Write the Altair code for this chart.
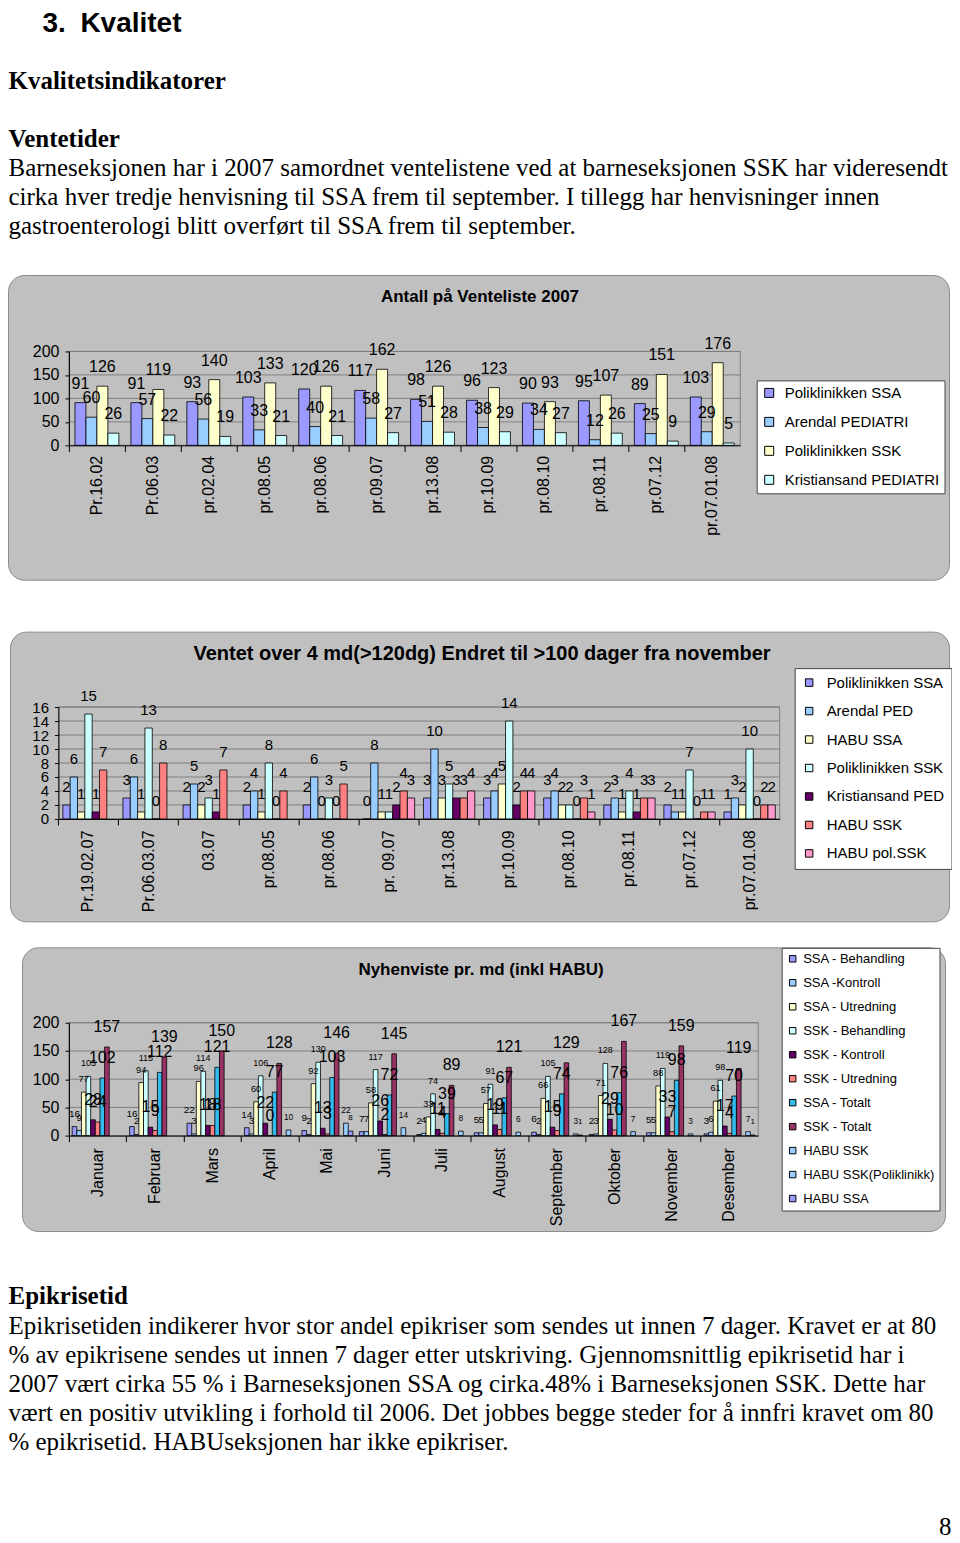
import altair as alt
import pandas as pd

W = 944
X0 = 68.5          # common page x of every section's origin
SANS = "Liberation Sans"
SERIF = "Liberation Serif"

# ---------------- document text ----------------
head_num = "3."
head_title = "Kvalitet"
head_sub = "Kvalitetsindikatorer"
head_sec = "Ventetider"
intro_lines = [
    "Barneseksjonen har i 2007 samordnet ventelistene ved at barneseksjonen SSK har videresendt",
    "cirka hver tredje henvisning til SSA frem til september. I tillegg har henvisninger innen",
    "gastroenterologi blitt overført til SSA frem til september.",
]
epi_head = "Epikrisetid"
epi_lines = [
    "Epikrisetiden indikerer hvor stor andel epikriser som sendes ut innen 7 dager. Kravet er at 80",
    "% av epikrisene sendes ut innen 7 dager etter utskriving. Gjennomsnittlig epikrisetid har i",
    "2007 vært cirka 55 % i Barneseksjonen SSA og cirka.48% i Barneseksjonen SSK. Dette har",
    "vært en positiv utvikling i forhold til 2006. Det jobbes begge steder for å innfri kravet om 80",
    "% epikrisetid. HABUseksjonen har ikke epikriser.",
]
page_no = "8"

# ---------------- chart 1 data ----------------
c1_title = "Antall på Venteliste 2007"
c1_cats = ["Pr.16.02", "Pr.06.03", "pr.02.04", "pr.08.05", "pr.08.06", "pr.09.07",
           "pr.13.08", "pr.10.09", "pr.08.10", "pr.08.11", "pr.07.12", "pr.07.01.08"]
c1_series = ["Poliklinikken SSA", "Arendal PEDIATRI", "Poliklinikken SSK", "Kristiansand PEDIATRI"]
c1_pol_ssa = [91, 91, 93, 103, 120, 117, 98, 96, 90, 95, 89, 103]
c1_arendal = [60, 57, 56, 33, 40, 58, 51, 38, 34, 12, 25, 29]
c1_pol_ssk = [126, 119, 140, 133, 126, 162, 126, 123, 93, 107, 151, 176]
c1_krs = [26, 22, 19, 21, 21, 27, 28, 29, 27, 26, 9, 5]
c1_colors = ["#9999FF", "#99CCFF", "#FFFFCC", "#CCFFFF"]
c1_ticks = [0, 50, 100, 150, 200]

# ---------------- chart 2 data ----------------
c2_title = "Ventet over 4 md(>120dg) Endret til >100 dager fra november"
c2_cats = ["Pr.19.02.07", "Pr.06.03.07", "03.07", "pr.08.05", "pr.08.06", "pr. 09.07",
           "pr.13.08", "pr.10.09", "pr.08.10", "pr.08.11", "pr.07.12", "pr.07.01.08"]
c2_series = ["Poliklinikken SSA", "Arendal PED", "HABU SSA", "Poliklinikken SSK",
             "Kristiansand PED", "HABU SSK", "HABU pol.SSK"]
c2_pol_ssa = [2, 3, 2, 2, 2, 0, 3, 3, 3, 2, 2, 1]
c2_arendal = [6, 6, 5, 4, 6, 8, 10, 4, 4, 3, 1, 3]
c2_habu_ssa = [1, 1, 2, 1, 0, 1, 3, 5, 2, 1, 1, 2]
c2_pol_ssk = [15, 13, 3, 8, 3, 1, 5, 14, 2, 4, 7, 10]
c2_krs = [1, 0, 1, 0, 0, 2, 3, 2, 0, 1, 0, 0]
c2_habu_ssk = [7, 8, 7, 4, 5, 4, 3, 4, 3, 3, 1, 2]
c2_habu_pol = [None, None, None, None, None, 3, 4, 4, 1, 3, 1, 2]
c2_colors = ["#9999FF", "#99CCFF", "#FFFFCC", "#CCFFFF", "#660066", "#FF8080", "#FF99CC"]
c2_ticks = [0, 2, 4, 6, 8, 10, 12, 14, 16]

# ---------------- chart 3 data ----------------
c3_title = "Nyhenviste pr. md (inkl HABU)"
c3_cats = ["Januar", "Februar", "Mars", "April", "Mai", "Juni", "Juli", "August",
           "September", "Oktober", "November", "Desember"]
c3_series = ["SSA - Behandling", "SSA -Kontroll", "SSA - Utredning", "SSK - Behandling",
             "SSK - Kontroll", "SSK - Utredning", "SSA  - Totalt", "SSK - Totalt",
             "HABU SSK", "HABU SSK(Poliklinikk)", "HABU SSA"]
c3_ssa_beh = [16, 16, 22, 14, 9, 7, 2, 5, 6, 2, 5, 3]
c3_ssa_kon = [9, 2, 3, 3, 2, 7, 4, 5, 2, 3, 5, 6]
c3_ssa_utr = [77, 94, 96, 60, 92, 58, 33, 57, 66, 71, 88, 61]
c3_ssk_beh = [105, 115, 114, 106, 130, 117, 74, 91, 105, 128, 119, 98]
c3_ssk_kon = [28, 15, 18, 22, 13, 26, 11, 19, 15, 29, 33, 17]
c3_ssk_utr = [24, 9, 18, 0, 3, 2, 4, 11, 9, 10, 7, 4]
c3_ssa_tot = [102, 112, 121, 77, 103, 72, 39, 67, 74, 76, 98, 70]
c3_ssk_tot = [157, 139, 150, 128, 146, 145, 89, 121, 129, 167, 159, 119]
c3_habu_ssk = [None] * 12
c3_habu_pol = [None, None, None, 10, 22, 14, 8, 6, 3, 7, 3, 7]
c3_habu_ssa = [None, None, None, None, 8, None, None, None, 1, None, None, 1]
c3_colors = ["#9999FF", "#99CCFF", "#FFFFCC", "#CCFFFF", "#660066", "#FF8080",
             "#33BBEE", "#993366", "#99CCFF", "#99CCFF", "#9999FF"]
c3_ticks = [0, 50, 100, 150, 200]
c3_big = ["SSK - Kontroll", "SSK - Utredning", "SSA  - Totalt", "SSK - Totalt"]
c3_small = [s for s in c3_series if s not in c3_big]
c3_small_sizes = [10, 8, 10, 8, 10, 10, 10]

ONE = pd.DataFrame({"k": [0]})


def long_df(cats, series, arrays):
    rows = []
    for s, arr in zip(series, arrays):
        for c, v in zip(cats, arr):
            if v is not None:
                rows.append({"cat": c, "series": s, "value": v})
    return pd.DataFrame(rows)


def vrect(x1, x2, y1, y2, **kw):
    return alt.Chart(ONE).mark_rect(**kw).encode(
        x=alt.value(x1), x2=alt.value(x2), y=alt.value(y1), y2=alt.value(y2))


def vtext(s, x, y, **kw):
    kw.setdefault("align", "left")
    return alt.Chart(ONE).mark_text(color="black", **kw).encode(
        x=alt.value(x), y=alt.value(y), text=alt.value(s))


def text_section(top, height, items):
    layers = [vrect(8 - X0, 8 + W - X0, 0, height, fill="white")]
    for s, x, y, kw in items:
        layers.append(vtext(s, x - X0, y - top, **kw))
    return alt.layer(*layers).properties(width=8 + W - X0, height=height)


def chart_section(top, height, py0, pl, pw, ph, frame, df, cats, series, colors, ticks,
                  xpad, title, title_pos, title_kw, legend_kw, label_layers, xlab_pad,
                  ylab_size):
    oy = py0 - top
    fx1, fx2, fy1, fy2 = frame
    x0 = pl - X0                       # plot left relative to the section origin
    xscale = dict(paddingInner=0, paddingOuter=0)
    if x0 != 0:
        xscale["range"] = [x0, x0 + pw]
    x_enc = alt.X("cat:N", sort=cats, scale=alt.Scale(**xscale),
                  axis=alt.Axis(title=None, labelAngle=270, bandPosition=0, tickSize=6,
                                labelPadding=xlab_pad, labelFont=SANS, labelFontSize=16,
                                labelColor="black", domainColor="black", tickColor="black",
                                zindex=1, grid=False))
    xo_enc = alt.XOffset("series:N", sort=series,
                         scale=alt.Scale(domain=series, paddingInner=0, paddingOuter=xpad))
    yaxis = dict(title=None, values=ticks, tickSize=4, labelPadding=6,
                 labelFont=SANS, labelFontSize=ylab_size, labelColor="black",
                 domainColor="black", tickColor="black", grid=False,
                 zindex=1, labelOverlap=False)
    if x0 != 0:
        yaxis["offset"] = -x0
    y_enc = alt.Y("value:Q", scale=alt.Scale(domain=[ticks[0], ticks[-1]], nice=False),
                  axis=alt.Axis(**yaxis))
    color_enc = alt.Color("series:N", sort=series,
                          scale=alt.Scale(domain=series, range=colors),
                          legend=alt.Legend(title=None, orient="none",
                                            legendX=legend_kw.pop("x") - X0,
                                            legendY=legend_kw.pop("y") - py0,
                                            fillColor="white", strokeColor="#444444",
                                            symbolType="square", symbolStrokeColor="black",
                                            symbolStrokeWidth=1, labelFont=SANS,
                                            labelColor="black", labelLimit=400,
                                            **legend_kw))
    layers = [
        vrect(8 - X0, 8 + W - X0, -oy, height - oy, fill="white"),
        vrect(fx1 - X0, fx2 - X0, fy1 - py0, fy2 - py0, fill="#C0C0C0",
              stroke="#8A8A8A", strokeWidth=1, cornerRadius=16),
        vtext(title, title_pos[0] - X0, title_pos[1] - py0, font=SANS, align="center",
              baseline="middle", **title_kw),
        alt.Chart(pd.DataFrame({"value": ticks})).mark_rule(color="#808080", strokeWidth=1)
        .encode(y=y_enc, x=alt.value(x0), x2=alt.value(x0 + pw)),
        vrect(x0, x0 + pw, 0, ph, fillOpacity=0, stroke="#808080", strokeWidth=1),
        alt.Chart(df).mark_bar(stroke="black", strokeWidth=0.8)
        .encode(x=x_enc, xOffset=xo_enc, y=y_enc, color=color_enc),
    ]
    for flt, mk, extra in label_layers:
        ch = alt.Chart(df)
        if flt is not None:
            ch = ch.transform_filter(alt.FieldOneOfPredicate(field="series", oneOf=flt))
        enc = dict(x=x_enc, xOffset=xo_enc, y=y_enc, text=alt.Text("value:Q", format="d"))
        enc.update(extra)
        layers.append(ch.mark_text(font=SANS, color="black", baseline="middle",
                                   align="center", **mk).encode(**enc))
    return alt.layer(*layers).properties(width=x0 + pw, height=ph)


# ---------------- sections ----------------
secA = text_section(8, 254, [
    (head_num, 42, 9, dict(font=SANS, fontSize=28, fontWeight="bold", baseline="top")),
    (head_title, 80, 9, dict(font=SANS, fontSize=28, fontWeight="bold", baseline="top")),
    (head_sub, 8, 80, dict(font=SERIF, fontSize=25, fontWeight="bold", baseline="middle")),
    (head_sec, 8, 138, dict(font=SERIF, fontSize=25, fontWeight="bold", baseline="middle")),
] + [(t, 8, 167 + 29 * i, dict(font=SERIF, fontSize=25, baseline="middle"))
     for i, t in enumerate(intro_lines)])

df1 = long_df(c1_cats, c1_series, [c1_pol_ssa, c1_arendal, c1_pol_ssk, c1_krs])
secB = chart_section(
    262, 338, 351, 68.5, 672, 94, (8, 950, 275, 580), df1, c1_cats, c1_series, c1_colors,
    c1_ticks, 0.55, c1_title, (480, 296), dict(fontSize=17, fontWeight="bold"),
    dict(x=757, y=380, padding=5, rowPadding=13, symbolSize=81, labelFontSize=15,
         labelOffset=8),
    [(None, dict(fontSize=16, dy=-19), {})], 4, 16)

df2 = long_df(c2_cats, c2_series, [c2_pol_ssa, c2_arendal, c2_habu_ssa, c2_pol_ssk,
                                    c2_krs, c2_habu_ssk, c2_habu_pol])
secC = chart_section(
    600, 335, 707, 58, 722, 112, (10, 950, 632, 922), df2, c2_cats, c2_series, c2_colors,
    c2_ticks, 0.6, c2_title, (482, 654), dict(fontSize=20, fontWeight="bold"),
    dict(x=795, y=668, padding=7, rowPadding=12.5, symbolSize=56, labelFontSize=15,
         labelOffset=10),
    [(None, dict(fontSize=15, dy=-18), {})], 5, 15)

df3 = long_df(c3_cats, c3_series, [c3_ssa_beh, c3_ssa_kon, c3_ssa_utr, c3_ssk_beh,
                                    c3_ssk_kon, c3_ssk_utr, c3_ssa_tot, c3_ssk_tot,
                                    c3_habu_ssk, c3_habu_pol, c3_habu_ssa])
secD = chart_section(
    935, 315, 1023, 68.5, 690, 113, (22, 946, 948, 1232), df3, c3_cats, c3_series,
    c3_colors, c3_ticks, 0.7, c3_title, (481, 970), dict(fontSize=17, fontWeight="bold"),
    dict(x=782, y=948, padding=4.5, rowPadding=10, symbolSize=42, labelFontSize=13,
         labelOffset=4),
    [(c3_big, dict(fontSize=16, dy=-20), {}),
     (c3_small, dict(dy=-13),
      {"size": alt.Size("series:N", scale=alt.Scale(domain=c3_small, range=c3_small_sizes),
                        legend=None)})],
    6, 16)

secE = text_section(1250, 285, [
    (epi_head, 8, 1297, dict(font=SERIF, fontSize=25, fontWeight="bold", baseline="middle")),
] + [(t, 8, 1327 + 29 * i, dict(font=SERIF, fontSize=25, baseline="middle"))
     for i, t in enumerate(epi_lines)] + [
    (page_no, 952, 1528, dict(font=SERIF, fontSize=25, align="right", baseline="middle")),
])

chart = alt.vconcat(secA, secB, secC, secD, secE, spacing=0).resolve_scale(
    x="independent", y="independent", color="independent", xOffset="independent",
    size="independent"
).resolve_axis(x="independent", y="independent").resolve_legend(
    color="independent", size="independent"
).properties(padding=0, background="white").configure_view(strokeWidth=0)

chart.save("out.html", embed_options={"renderer": "svg", "actions": False})
